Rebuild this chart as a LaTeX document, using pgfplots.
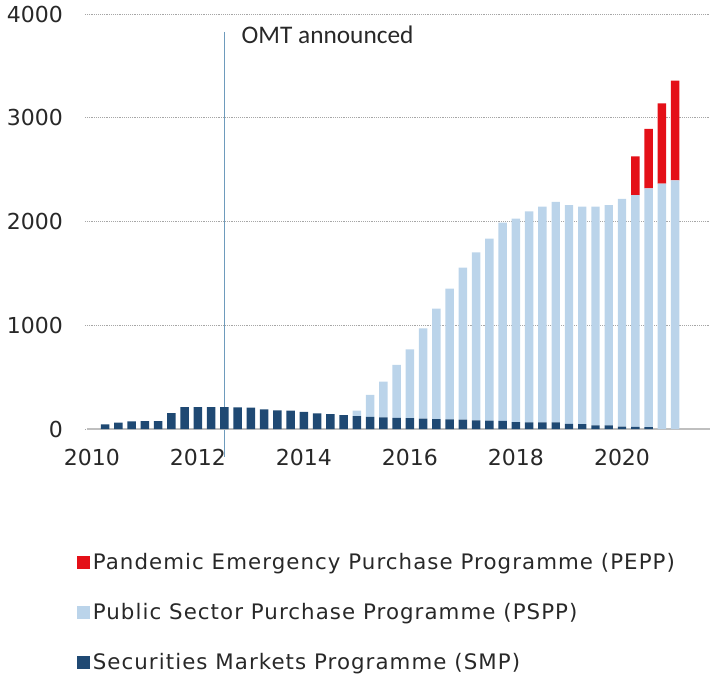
\documentclass[border=0pt]{standalone}
\usepackage{pgfplots}
\pgfplotsset{compat=1.18}
\usepackage{pgfplotstable}
\usepackage{fontspec}
\setmainfont{DejaVu Sans}
\newfontfamily\calibri{Carlito}
\newfontfamily\legfont[LetterSpace=5]{DejaVu Sans}
\definecolor{peppc}{RGB}{228,16,24}
\definecolor{psppc}{RGB}{187,212,234}
\definecolor{smpc}{RGB}{31,73,115}
\definecolor{omtc}{RGB}{110,155,188}
\definecolor{txtc}{RGB}{40,40,40}

\pgfplotstableread{
x smp pspp pepp
2010.25 45 0 0
2010.50 62 0 0
2010.75 74 0 0
2011.00 75 0 0
2011.25 75 0 0
2011.50 152 0 0
2011.75 210 0 0
2012.00 212 0 0
2012.25 212 0 0
2012.50 210 0 0
2012.75 208 0 0
2013.00 205 0 0
2013.25 190 0 0
2013.50 180 0 0
2013.75 178 0 0
2014.00 165 0 0
2014.25 150 0 0
2014.50 143 0 0
2014.75 135 0 0
2015.00 125 52 0
2015.25 118 210 0
2015.50 112 344 0
2015.75 108 509 0
2016.00 106 662 0
2016.25 100 870 0
2016.50 95 1065 0
2016.75 93 1260 0
2017.00 90 1465 0
2017.25 82 1621 0
2017.50 80 1755 0
2017.75 78 1911 0
2018.00 66 1961 0
2018.25 65 2033 0
2018.50 64 2079 0
2018.75 63 2125 0
2019.00 50 2109 0
2019.25 47 2096 0
2019.50 36 2107 0
2019.75 34 2125 0
2020.00 22 2195 0
2020.25 20 2235 373
2020.50 17 2303 572
2020.75 0 2365 774
2021.00 0 2397 960
}\datatable

\begin{document}
\begin{tikzpicture}
\begin{axis}[
  name=ax,
  width=468.75pt, height=311.25pt, scale only axis,
  xmin=2009.87, xmax=2021.66, ymin=0, ymax=4000,
  clip=false,
  axis line style={draw=none},
  ymajorgrids, grid style={densely dotted, black!35, line width=0.6pt},
  ytick={0,1000,2000,3000,4000},
  xtick={2010,2012,2014,2016,2018,2020},
  major tick length=0pt,
  tick label style={font=\fontsize{16.5}{19}\selectfont, text=txtc},
  /pgf/number format/assume math mode=true,
  /pgf/number format/1000 sep={},
  yticklabel style={anchor=east, xshift=-13pt},
  xticklabel style={yshift=-11.5pt},
  ybar stacked, bar width=0.16,
  legend cell align=left,
  reverse legend,
  legend style={draw=none, fill=none,
    at={(rel axis cs:-0.013,-0.292)}, anchor=north west,
    font=\legfont\fontsize{16}{19}\selectfont, text=txtc,
    row sep=19.9pt, inner sep=0pt},
  legend image code/.code={\fill[#1] (0pt,-4.9pt) rectangle (9.75pt,4.9pt);},
]
\addplot[fill=smpc, draw=none] table[x=x, y=smp] {\datatable};
\addlegendentry{Securities Markets Programme (SMP)}
\addplot[fill=psppc, draw=none] table[x=x, y=pspp] {\datatable};
\addlegendentry{Public Sector Purchase Programme (PSPP)}
\addplot[fill=peppc, draw=none] table[x=x, y=pepp] {\datatable};
\addlegendentry{Pandemic Emergency Purchase Programme (PEPP)}
\draw[black!25, line width=0.8pt] (axis cs:2009.9,0) -- (axis cs:2021.66,0);
\draw[omtc, line width=0.8pt] (axis cs:2012.51,3827) -- (axis cs:2012.51,-270);
\node[anchor=base west, inner sep=0pt, text=txtc, font=\calibri\fontsize{19}{22}\selectfont] at (axis cs:2012.82,3711) {OMT announced};
\end{axis}
\pgfresetboundingbox
\path (ax.south west) ++(-63.75pt,-187.5pt) rectangle ++(532.5pt,509.25pt);
\end{tikzpicture}
\end{document}
